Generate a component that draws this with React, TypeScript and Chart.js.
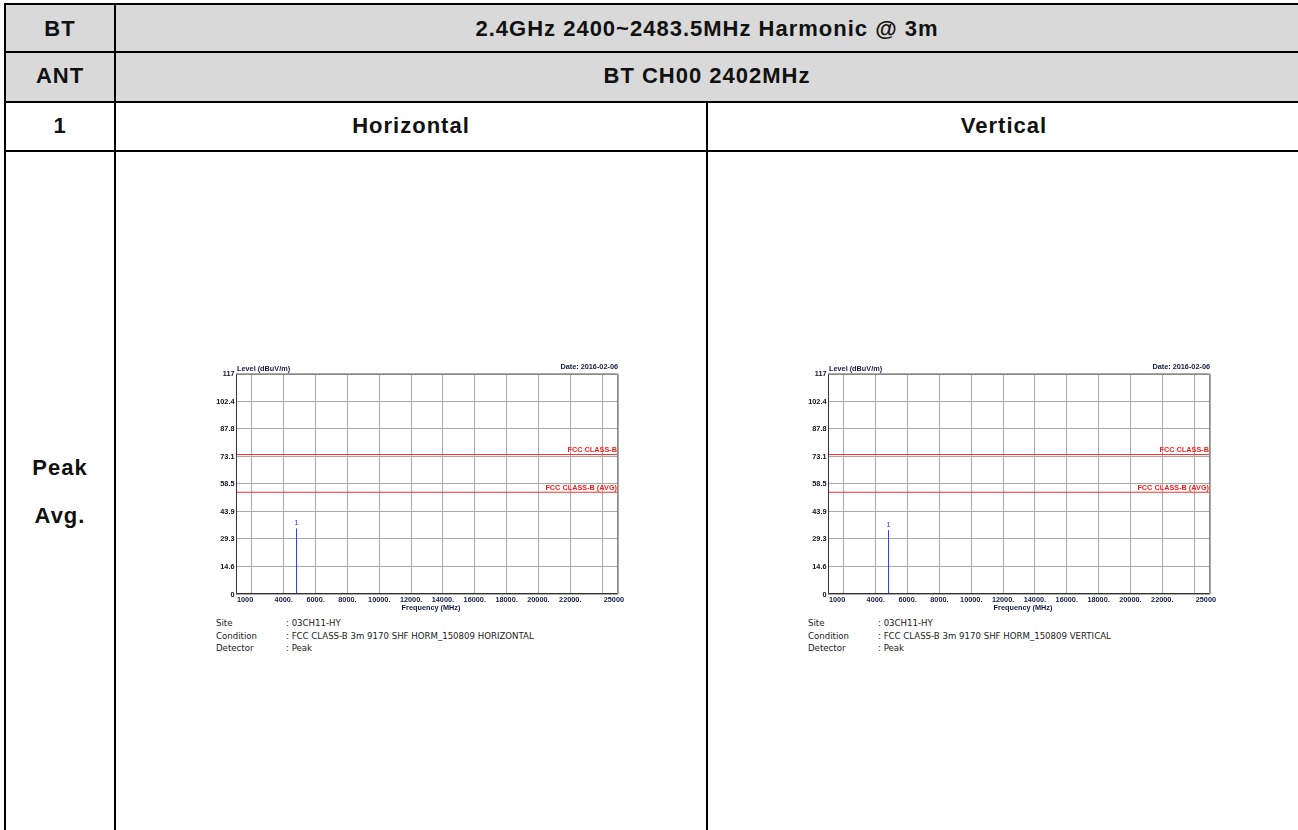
import React, { useEffect, useRef } from "react";
import { Chart, registerables } from "chart.js";

Chart.register(...registerables);

// ---------- data ----------
const FREQ_MIN = 1000;
const FREQ_MAX = 25000;
const X_TICK_VALUES = [1000, 2000, 4000, 6000, 8000, 10000, 12000, 14000, 16000, 18000, 20000, 22000, 24000, 25000];
const X_TICK_LABELS = ["1000", "", "4000.", "6000.", "8000.", "10000.", "12000.", "14000.", "16000.", "18000.", "20000.", "22000.", "", "25000"];
const LEVEL_MIN = 0;
const LEVEL_MAX = 117;
const Y_TICK_VALUES = [0, 14.625, 29.25, 43.875, 58.5, 73.125, 87.75, 102.375, 117];
const Y_TICK_LABELS = ["0", "14.6", "29.3", "43.9", "58.5", "73.1", "87.8", "102.4", "117"];
const LIMIT_NAMES = ["FCC CLASS-B", "FCC CLASS-B (AVG)"];
const LIMIT_LEVELS = [74, 54];
const POLARIZATIONS = ["Horizontal", "Vertical"];
const CONDITIONS = [
  "FCC CLASS-B 3m 9170 SHF HORM_150809 HORIZONTAL",
  "FCC CLASS-B 3m 9170 SHF HORM_150809 VERTICAL",
];
const PEAK_MARKERS = ["1", "1"];
const PEAK_FREQS = [4804, 4804];
const PEAK_LEVELS = [34.8, 33.9];
const Y_TITLE = "Level (dBuV/m)";
const X_TITLE = "Frequency (MHz)";
const TEST_DATE = "Date: 2016-02-06";
const SITE = "03CH11-HY";
const DETECTOR = "Peak";
const HEADER_TITLE = "2.4GHz 2400~2483.5MHz Harmonic @ 3m";
const HEADER_CHANNEL = "BT CH00 2402MHz";

const CANVAS_W = 430;
const CANVAS_H = 260;
const PAD = { left: 36, top: 18.5, right: 12, bottom: 21 };

function SpectrumChart({ idx, left, top }: { idx: number; left: number; top: number }) {
  const ref = useRef<HTMLCanvasElement>(null);
  useEffect(() => {
    const labelPlugin = {
      id: "emcLabels",
      afterDraw(chart: any) {
        const { ctx, chartArea: a, scales } = chart;
        const xs = scales.x;
        const ys = scales.y;
        ctx.save();
        // frame
        ctx.lineWidth = 1;
        ctx.strokeStyle = "#8a8a8a";
        ctx.beginPath();
        ctx.moveTo(Math.round(a.left) + 0.5, Math.round(a.top) + 0.5);
        ctx.lineTo(Math.round(a.right) - 0.5, Math.round(a.top) + 0.5);
        ctx.lineTo(Math.round(a.right) - 0.5, Math.round(a.bottom) - 0.5);
        ctx.stroke();
        ctx.strokeStyle = "#333";
        ctx.beginPath();
        ctx.moveTo(Math.round(a.left) + 0.5, Math.round(a.top) + 0.5);
        ctx.lineTo(Math.round(a.left) + 0.5, Math.round(a.bottom) - 0.5);
        ctx.lineTo(Math.round(a.right) - 0.5, Math.round(a.bottom) - 0.5);
        ctx.stroke();

        const bold = 'bold 7.3px "Liberation Sans", Arial, sans-serif';
        ctx.font = bold;
        ctx.textBaseline = "middle";
        // y tick labels
        ctx.fillStyle = "#101020";
        ctx.textAlign = "right";
        Y_TICK_VALUES.forEach((v, i) => {
          ctx.fillText(Y_TICK_LABELS[i], a.left - 1.5, ys.getPixelForValue(v) + 0.5);
        });
        // x tick labels
        ctx.fillStyle = "#141c44";
        const last = X_TICK_VALUES.length - 1;
        X_TICK_VALUES.forEach((v, i) => {
          const lab = X_TICK_LABELS[i];
          if (!lab) return;
          const px = xs.getPixelForValue(v);
          if (i === 0) {
            ctx.textAlign = "left";
            ctx.fillText(lab, px + 1, a.bottom + 5.5);
          } else if (i === last) {
            ctx.textAlign = "right";
            ctx.fillText(lab, px + 6, a.bottom + 5.5);
          } else {
            ctx.textAlign = "center";
            ctx.fillText(lab, px, a.bottom + 5.5);
          }
        });
        // titles
        ctx.textAlign = "center";
        ctx.fillText(X_TITLE, (a.left + a.right) / 2 + 4, a.bottom + 14);
        ctx.textAlign = "left";
        ctx.fillText(Y_TITLE, a.left + 1, a.top - 4.5);
        ctx.textAlign = "right";
        ctx.fillText(TEST_DATE, a.right, a.top - 7);
        // limit labels
        ctx.fillStyle = "#ff1a1a";
        LIMIT_LEVELS.forEach((l, i) => {
          ctx.fillText(LIMIT_NAMES[i], a.right - 1, ys.getPixelForValue(l) - (i === 0 ? 5 : 4));
        });
        // peak marker
        ctx.font = '7.3px "Liberation Sans", Arial, sans-serif';
        ctx.fillStyle = "#3434ff";
        ctx.textAlign = "center";
        ctx.fillText(PEAK_MARKERS[idx], xs.getPixelForValue(PEAK_FREQS[idx]), ys.getPixelForValue(PEAK_LEVELS[idx]) - 5);
        ctx.restore();
      },
    };

    const limitSets = LIMIT_LEVELS.map((l) => ({
      data: [
        { x: FREQ_MIN, y: l },
        { x: FREQ_MAX, y: l },
      ],
      showLine: true,
      borderColor: "#ff2a2a",
      borderWidth: 1,
      pointRadius: 0,
    }));
    const peakSet = {
      data: [
        { x: PEAK_FREQS[idx], y: LEVEL_MIN },
        { x: PEAK_FREQS[idx], y: PEAK_LEVELS[idx] },
      ],
      showLine: true,
      borderColor: "#3434ff",
      borderWidth: 1,
      pointRadius: 0,
    };

    const chart = new Chart(ref.current as HTMLCanvasElement, {
      type: "scatter",
      data: { datasets: [...limitSets, peakSet] as any },
      options: {
        responsive: false,
        animation: false,
        devicePixelRatio: 1,
        layout: { padding: PAD },
        plugins: { legend: { display: false }, tooltip: { enabled: false } },
        scales: {
          x: {
            type: "linear",
            min: FREQ_MIN,
            max: FREQ_MAX,
            afterBuildTicks: (s: any) => {
              s.ticks = X_TICK_VALUES.map((v) => ({ value: v }));
            },
            afterFit: (s: any) => {
              s.height = 0;
            },
            ticks: { display: false },
            grid: { color: "#a9a9a9", lineWidth: 1, drawTicks: false },
            border: { display: false },
          },
          y: {
            type: "linear",
            min: LEVEL_MIN,
            max: LEVEL_MAX,
            afterBuildTicks: (s: any) => {
              s.ticks = Y_TICK_VALUES.map((v) => ({ value: v }));
            },
            afterFit: (s: any) => {
              s.width = 0;
            },
            ticks: { display: false },
            grid: { color: "#a9a9a9", lineWidth: 1, drawTicks: false },
            border: { display: false },
          },
        },
      } as any,
      plugins: [labelPlugin],
    });
    return () => chart.destroy();
  }, [idx]);

  const plotLeft = left + PAD.left;
  const footFont: React.CSSProperties = {
    position: "absolute",
    fontFamily: '"DejaVu Sans", Verdana, sans-serif',
    fontSize: 8.6,
    lineHeight: "12px",
    color: "#1a1a1a",
    whiteSpace: "nowrap",
  };
  const rows = [
    ["Site", ": " + SITE],
    ["Condition", ": " + CONDITIONS[idx]],
    ["Detector", ": " + DETECTOR],
  ];
  return (
    <>
      <canvas
        ref={ref}
        width={CANVAS_W}
        height={CANVAS_H}
        style={{ position: "absolute", left, top, width: CANVAS_W, height: CANVAS_H }}
      />
      {rows.map((r, i) => (
        <React.Fragment key={i}>
          <div style={{ ...footFont, left: plotLeft - 20, top: 617 + i * 12.7 }}>{r[0]}</div>
          <div style={{ ...footFont, left: plotLeft + 50, top: 617 + i * 12.7 }}>{r[1]}</div>
        </React.Fragment>
      ))}
    </>
  );
}

const headFont: React.CSSProperties = {
  position: "absolute",
  display: "flex",
  alignItems: "center",
  justifyContent: "center",
  fontFamily: '"Liberation Sans", Arial, sans-serif',
  fontWeight: "bold",
  fontSize: 22,
  letterSpacing: 1,
  color: "#111",
  whiteSpace: "nowrap",
};

function Txt({ cx, cy, w, children }: { cx: number; cy: number; w: number; children: any }) {
  return <div style={{ ...headFont, left: cx - w / 2, top: cy - 20, width: w, height: 40 }}>{children}</div>;
}

function Line({ x, y, w, h }: { x: number; y: number; w: number; h: number }) {
  return <div style={{ position: "absolute", left: x, top: y, width: w, height: h, background: "#000" }} />;
}

export default function App() {
  return (
    <div
      style={{
        position: "fixed",
        left: 0,
        top: 0,
        width: 1298,
        height: 830,
        overflow: "hidden",
        background: "#fff",
      }}
    >
      {/* grey header rows */}
      <div style={{ position: "absolute", left: 5, top: 4, width: 1300, height: 98, background: "#d9d9d9" }} />
      {/* horizontal lines */}
      <Line x={4} y={3} w={1300} h={2} />
      <Line x={4} y={51} w={1300} h={2} />
      <Line x={4} y={101} w={1300} h={2} />
      <Line x={4} y={150} w={1300} h={2} />
      {/* vertical lines */}
      <Line x={4} y={3} w={2} h={830} />
      <Line x={114} y={3} w={2} h={830} />
      <Line x={706} y={101} w={2} h={730} />

      <Txt cx={60} cy={29} w={108}>BT</Txt>
      <Txt cx={60} cy={76} w={108}>ANT</Txt>
      <Txt cx={60} cy={126} w={108}>1</Txt>
      <Txt cx={707} cy={29} w={1100}>{HEADER_TITLE}</Txt>
      <Txt cx={707} cy={76} w={1100}>{HEADER_CHANNEL}</Txt>
      <Txt cx={411} cy={126} w={580}>{POLARIZATIONS[0]}</Txt>
      <Txt cx={1004} cy={126} w={580}>{POLARIZATIONS[1]}</Txt>
      <Txt cx={60} cy={468} w={108}>Peak</Txt>
      <Txt cx={60} cy={516} w={108}>Avg.</Txt>

      <SpectrumChart idx={0} left={200} top={355} />
      <SpectrumChart idx={1} left={792} top={355} />
    </div>
  );
}
